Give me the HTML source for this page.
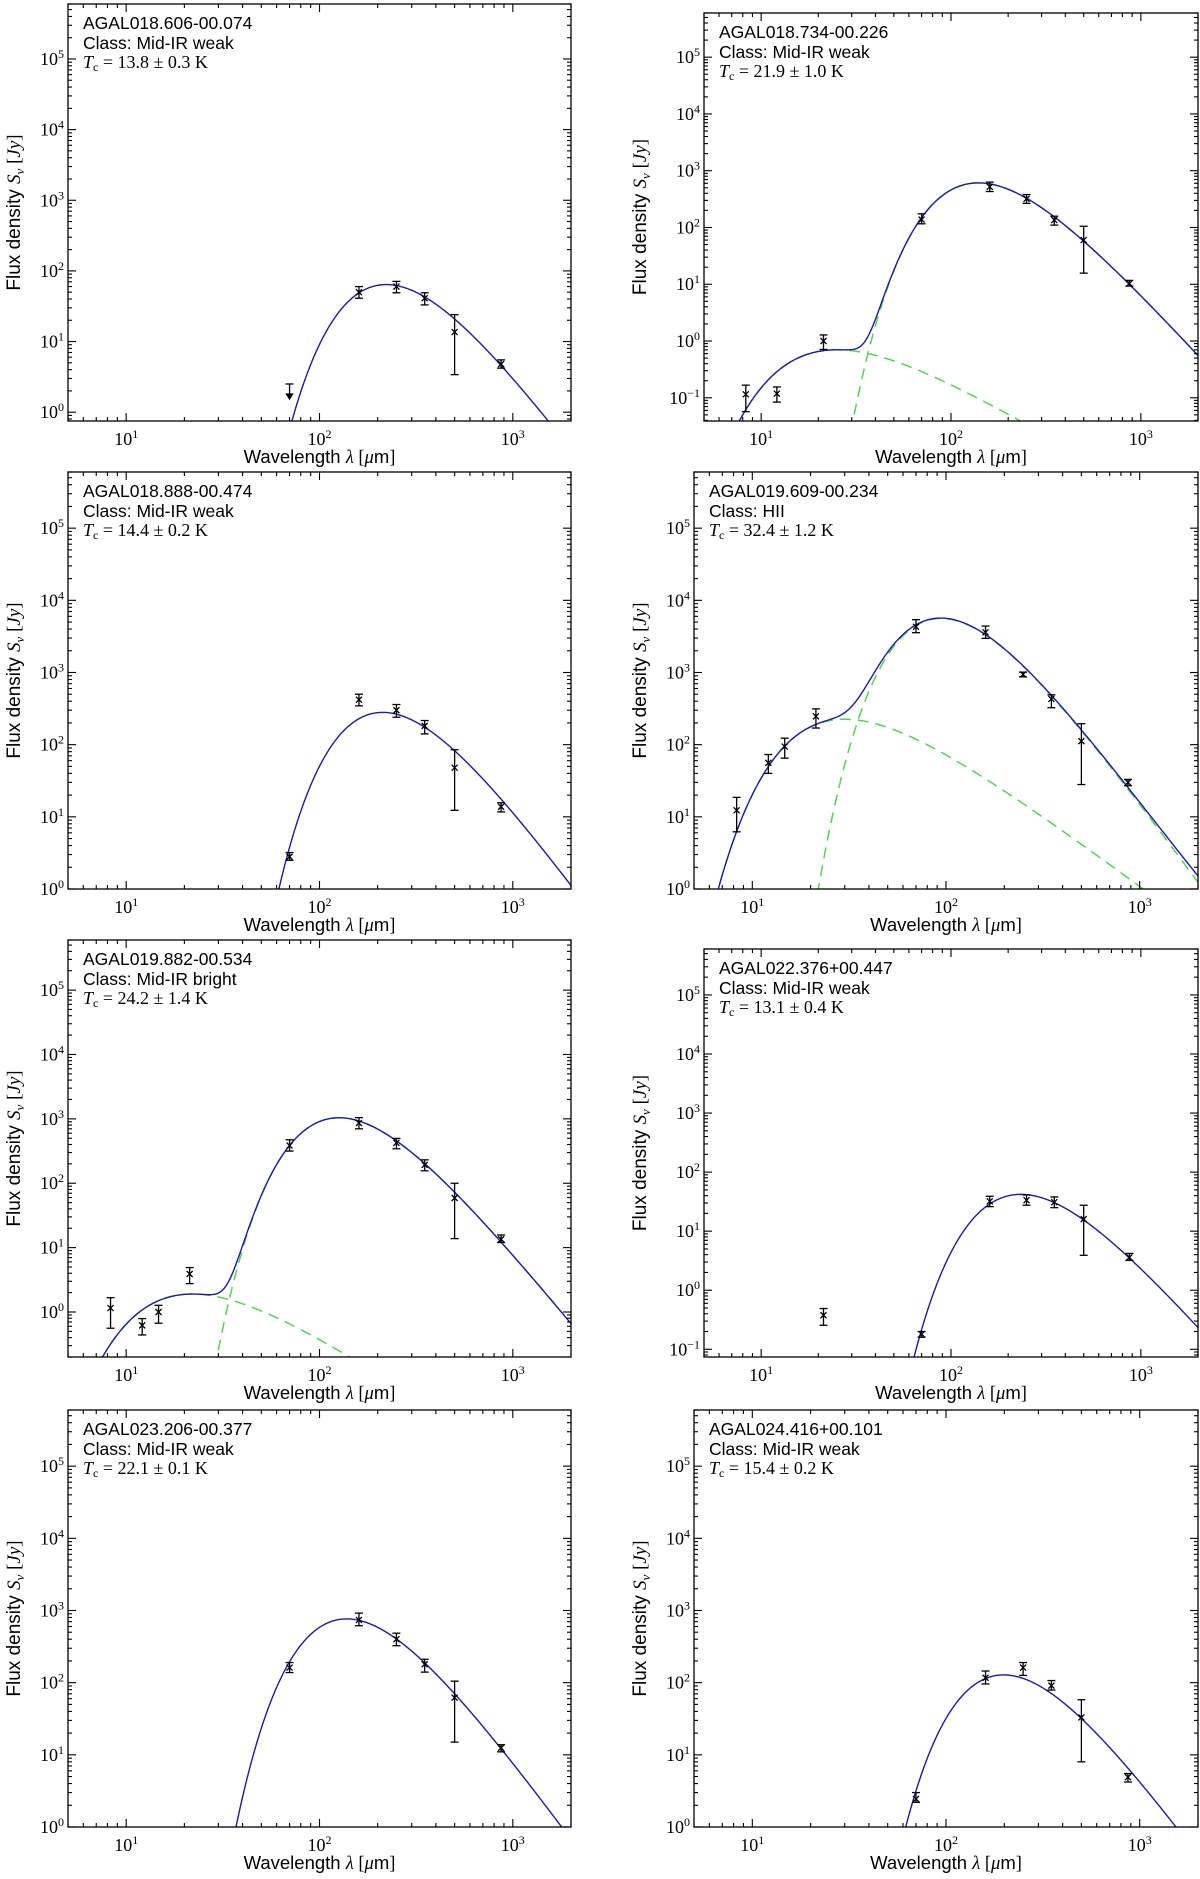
<!DOCTYPE html>
<html><head><meta charset="utf-8"><style>
html,body{margin:0;padding:0;background:#fff;width:1200px;height:1879px;overflow:hidden;}
svg{display:block;}
</style></head><body>
<svg id="fig" width="1200" height="1879" viewBox="0 0 1200 1879" xmlns="http://www.w3.org/2000/svg"></svg>
<script>
// ---------- data ----------
const sourceNames = ["AGAL018.606-00.074","AGAL018.734-00.226","AGAL018.888-00.474","AGAL019.609-00.234","AGAL019.882-00.534","AGAL022.376+00.447","AGAL023.206-00.377","AGAL024.416+00.101"];
const sourceClasses = ["Mid-IR weak","Mid-IR weak","Mid-IR weak","HII","Mid-IR bright","Mid-IR weak","Mid-IR weak","Mid-IR weak"];
const coldTemps = [13.8, 21.9, 14.4, 32.4, 24.2, 13.1, 22.1, 15.4];
const coldTempErrs = ["0.3","1.0","0.2","1.2","1.4","0.4","0.1","0.2"];
const coldPeaks = [64, 610, 280, 5600, 1040, 42, 765, 128];
const warmTemps = [0, 204, 0, 170, 232, 0, 0, 0];
const warmPeaks = [0, 0.7, 0, 225, 1.9, 0, 0, 0];
const yMins = [0.75, 0.039, 1, 1, 0.2, 0.074, 1, 1];
const yMax = 6e5;
const xMin = 5, xMax = 2000;

const wl1=[70,160,250,350,500,870], fx1=[2.2,50,60,41,13.6,4.8], lo1=[2.2,41,49,33,3.4,4.2], hi1=[2.2,60,71,49,24,5.5], lim1=[1,0,0,0,0,0];
const wl2=[8.3,12.1,21.3,70,160,250,350,500,870], fx2=[0.115,0.118,1.0,138,520,320,135,60,10.3], lo2=[0.057,0.084,0.71,116,430,266,110,15.7,9.3], hi2=[0.167,0.155,1.28,174,630,380,158,105,11.7], lim2=[0,0,0,0,0,0,0,0,0];
const wl3=[70,160,250,350,500,870], fx3=[2.8,420,300,182,48,13.8], lo3=[2.5,345,240,141,12.3,11.7], hi3=[3.2,500,360,216,85,15.7], lim3=[0,0,0,0,0,0];
const wl4=[8.3,12.1,14.7,21.3,70,160,250,350,500,870], fx4=[12.3,56,94,247,4300,3600,940,430,112,30], lo4=[6.2,40,65,170,3560,2970,870,325,28,27], hi4=[18.6,73,123,313,5400,4400,1010,490,195,33], lim4=[0,0,0,0,0,0,0,0,0,0];
const wl5=[8.3,12.1,14.7,21.3,70,160,250,350,500,870], fx5=[1.15,0.62,1.0,3.9,385,860,425,193,59,13.5], lo5=[0.56,0.44,0.67,2.76,316,700,343,156,13.8,12], hi5=[1.67,0.79,1.27,4.9,473,1045,497,231,100,15.7], lim5=[0,0,0,0,0,0,0,0,0,0];
const wl6=[21.3,70,160,250,350,500,870], fx6=[0.377,0.18,32,33.5,31,16,3.6], lo6=[0.255,0.16,26,27.5,25,3.9,3.2], hi6=[0.49,0.2,39,41,38,27.5,4.2], lim6=[0,0,0,0,0,0,0];
const wl7=[70,160,250,350,500,870], fx7=[162,740,400,180,62,12.5], lo7=[138,615,325,140,15,11], hi7=[190,920,485,211,105,13.8], lim7=[0,0,0,0,0,0];
const wl8=[70,160,250,350,500,870], fx8=[2.45,117,162,91,33,4.9], lo8=[2.2,96,126,79,8,4.2], hi8=[3.0,145,190,107,58,5.5], lim8=[0,0,0,0,0,0];

const allWl=[wl1,wl2,wl3,wl4,wl5,wl6,wl7,wl8];
const allFx=[fx1,fx2,fx3,fx4,fx5,fx6,fx7,fx8];
const allLo=[lo1,lo2,lo3,lo4,lo5,lo6,lo7,lo8];
const allHi=[hi1,hi2,hi3,hi4,hi5,hi6,hi7,hi8];
const allLim=[lim1,lim2,lim3,lim4,lim5,lim6,lim7,lim8];

// ---------- layout ----------
const rowTop=[4,472,940,1410], rowBot=[421,889,1357,1827];
function box(i){
  const c=i%2, r=Math.floor(i/2);
  const shifted=(yMins[i]<0.1);
  return {x0: c===0?68:(shifted?704:694), x1: c===0?571:1198, y0: rowTop[r]+(shifted?9:0), y1: rowBot[r], col:c};
}
const NS="http://www.w3.org/2000/svg";
const svg=document.getElementById('fig');
function mk(tag,attrs,parent){const e=document.createElementNS(NS,tag);for(const k in attrs)e.setAttribute(k,attrs[k]);(parent||svg).appendChild(e);return e;}

const BETA_C=1.75, BETA_W=0.0, HCK=14388;
function grey(l,T,b){return Math.pow(l,-(3+b))/(Math.exp(HCK/(l*T))-1);}
function normFactor(T,b,peak){let m=0;for(let k=0;k<=2000;k++){const l=Math.pow(10,0.3+k*3.2/2000);const v=grey(l,T,b);if(v>m)m=v;}return peak/m;}

for(let i=0;i<8;i++){
  const B=box(i);
  const lx0=Math.log10(xMin), lx1=Math.log10(xMax), ly0=Math.log10(yMins[i]), ly1=Math.log10(yMax);
  const X=v=>B.x0+(Math.log10(v)-lx0)/(lx1-lx0)*(B.x1-B.x0);
  const Y=v=>B.y1-(Math.log10(v)-ly0)/(ly1-ly0)*(B.y1-B.y0);
  const clampY=y=>Math.max(Math.min(y,B.y1+8),B.y0-8);
  const g=mk('g',{});
  
  
  const cp=mk('clipPath',{id:'cp'+i},g);
  mk('rect',{x:B.x0,y:B.y0,width:B.x1-B.x0,height:B.y1-B.y0},cp);
  const plot=mk('g',{'clip-path':'url(#cp'+i+')'},g);

  const kc=normFactor(coldTemps[i],BETA_C,coldPeaks[i]);
  const hasW=warmPeaks[i]>0;
  const kw=hasW?normFactor(warmTemps[i],BETA_W,warmPeaks[i]):0;
  let dc='',dw='',ds='';
  for(let k=0;k<=600;k++){
    const l=Math.pow(10,lx0+k*(lx1-lx0)/600);
    let c=kc*grey(l,coldTemps[i],BETA_C); if(!(c>1e-30))c=1e-30;
    let w=hasW?kw*grey(l,warmTemps[i],BETA_W):0; if(hasW&&!(w>1e-30))w=1e-30;
    const cy=clampY(Y(c));
    const wy=hasW?clampY(Y(w)):0;
    const sy=clampY(Y(c+w));
    const px=X(l).toFixed(2);
    dc+=(k?'L':'M')+px+','+cy.toFixed(2);
    if(hasW)dw+=(k?'L':'M')+px+','+wy.toFixed(2);
    ds+=(k?'L':'M')+px+','+sy.toFixed(2);
  }
  if(hasW){
    const p1=mk('path',{d:dc,fill:'none',stroke:'#5ad05a','stroke-width':1.5,'stroke-dasharray':'11,7'},plot);
    
    
    const p2=mk('path',{d:dw,fill:'none',stroke:'#5ad05a','stroke-width':1.5,'stroke-dasharray':'11,7'},plot);
    
    
  }
  const ps=mk('path',{d:ds,fill:'none',stroke:'#1c1ca0','stroke-width':1.4},plot);
  
  

  const wl=allWl[i],fx=allFx[i],lo=allLo[i],hi=allHi[i],lim=allLim[i];
  for(let j=0;j<wl.length;j++){
    const px=X(wl[j]), py=Y(fx[j]);
    const pg=mk('g',{stroke:'#000','stroke-width':1.3,fill:'none'},plot);
    
    
    if(lim[j]){
      mk('line',{x1:px,y1:py-4,x2:px,y2:py+10},pg);
      mk('path',{d:'M'+(px-3)+','+(py+6)+'L'+px+','+(py+11)+'L'+(px+3)+','+(py+6)+'Z',fill:'#000'},pg);
      mk('line',{x1:px-4,y1:py-4,x2:px+4,y2:py-4},pg);
      continue;
    }
    const yl=Y(lo[j]), yh=Y(hi[j]);
    mk('line',{x1:px,y1:yh,x2:px,y2:yl},pg);
    mk('line',{x1:px-4,y1:yh,x2:px+4,y2:yh},pg);
    mk('line',{x1:px-4,y1:yl,x2:px+4,y2:yl},pg);
    mk('path',{d:'M'+(px-3)+','+(py-3)+'L'+(px+3)+','+(py+3)+'M'+(px-3)+','+(py+3)+'L'+(px+3)+','+(py-3)},pg);
  }

  const fr=mk('rect',{x:B.x0,y:B.y0,width:B.x1-B.x0,height:B.y1-B.y0,fill:'none',stroke:'#000','stroke-width':1.3},g);
  
  

  const tk=mk('g',{stroke:'#000','stroke-width':1.1},g);
  for(let d=0;d<=4;d++){for(let m=1;m<=9;m++){
    const v=m*Math.pow(10,d); if(v<xMin||v>xMax)continue;
    const x=X(v), L=(m===1)?8:4;
    mk('line',{x1:x,y1:B.y1,x2:x,y2:B.y1-L},tk);
    mk('line',{x1:x,y1:B.y0,x2:x,y2:B.y0+L},tk);
  }}
  for(let d=-2;d<=6;d++){for(let m=1;m<=9;m++){
    const v=m*Math.pow(10,d); if(v<yMins[i]||v>yMax)continue;
    const y=Y(v), L=(m===1)?8:4;
    mk('line',{x1:B.x0,y1:y,x2:B.x0+L,y2:y},tk);
    mk('line',{x1:B.x1,y1:y,x2:B.x1-L,y2:y},tk);
  }}
  for(let d=1;d<=3;d++){
    const t=mk('text',{x:X(Math.pow(10,d)),y:B.y1+24,'text-anchor':'middle','font-family':'"Liberation Serif",serif','font-size':18},g);
    
    
    t.appendChild(document.createTextNode('10'));
    const s=mk('tspan',{dy:-7,'font-size':12},t); s.textContent=String(d);
  }
  for(let d=Math.ceil(Math.log10(yMins[i])-1e-9);d<=5;d++){
    const t=mk('text',{x:B.x0-4,y:Y(Math.pow(10,d))+6,'text-anchor':'end','font-family':'"Liberation Serif",serif','font-size':18},g);
    
    
    t.appendChild(document.createTextNode('10'));
    const s=mk('tspan',{dy:-7,'font-size':12},t); s.textContent=(d<0?'\u2212':'')+Math.abs(d);
  }
  const xt=mk('text',{x:(B.x0+B.x1)/2,y:B.y1+42,'text-anchor':'middle','font-family':'"Liberation Sans",sans-serif','font-size':18.5},g);
  
  
  xt.appendChild(document.createTextNode('Wavelength '));
  let s1=mk('tspan',{'font-family':'"Liberation Serif",serif','font-style':'italic'},xt); s1.textContent='\u03bb';
  let s2=mk('tspan',{'font-family':'"Liberation Serif",serif'},xt); s2.textContent=' [';
  let s3=mk('tspan',{'font-family':'"Liberation Serif",serif','font-style':'italic'},xt); s3.textContent='\u03bc';
  let s4=mk('tspan',{},xt); s4.textContent='m';
  let s5=mk('tspan',{'font-family':'"Liberation Serif",serif'},xt); s5.textContent=']';
  const ycx=B.col===0?14:640, ycy=(B.y0+B.y1)/2;
  const yt=mk('text',{x:ycx,y:ycy,'text-anchor':'middle','font-family':'"Liberation Sans",sans-serif','font-size':19,transform:'rotate(-90 '+ycx+' '+ycy+')',dy:6},g);
  
  
  yt.appendChild(document.createTextNode('Flux density '));
  let a1=mk('tspan',{'font-family':'"Liberation Serif",serif','font-style':'italic'},yt); a1.textContent='S';
  let a2=mk('tspan',{'font-family':'"Liberation Serif",serif','font-style':'italic','font-size':13,dy:4},yt); a2.textContent='\u03bd';
  let a3=mk('tspan',{'font-family':'"Liberation Serif",serif',dy:-4},yt); a3.textContent=' [';
  let a4=mk('tspan',{'font-family':'"Liberation Serif",serif','font-style':'italic'},yt); a4.textContent='Jy';
  let a5=mk('tspan',{'font-family':'"Liberation Serif",serif'},yt); a5.textContent=']';

  const tx=B.x0+15;
  const n=mk('text',{x:tx,y:B.y0+25,'font-family':'"Liberation Sans",sans-serif','font-size':17.5},g);
  
  
  n.textContent=sourceNames[i];
  const c=mk('text',{x:tx,y:B.y0+45,'font-family':'"Liberation Sans",sans-serif','font-size':17.5},g);
  
  
  c.textContent='Class: '+sourceClasses[i];
  const tt=mk('text',{x:tx,y:B.y0+64,'font-family':'"Liberation Serif",serif','font-size':18},g);
  
  
  let b1=mk('tspan',{'font-style':'italic'},tt); b1.textContent='T';
  let b2=mk('tspan',{'font-size':12,dy:3},tt); b2.textContent='c';
  let b3=mk('tspan',{dy:-3},tt); b3.textContent=' = '+coldTemps[i].toFixed(1)+' \u00b1 '+coldTempErrs[i]+' K';
}
</script>
</body></html>
